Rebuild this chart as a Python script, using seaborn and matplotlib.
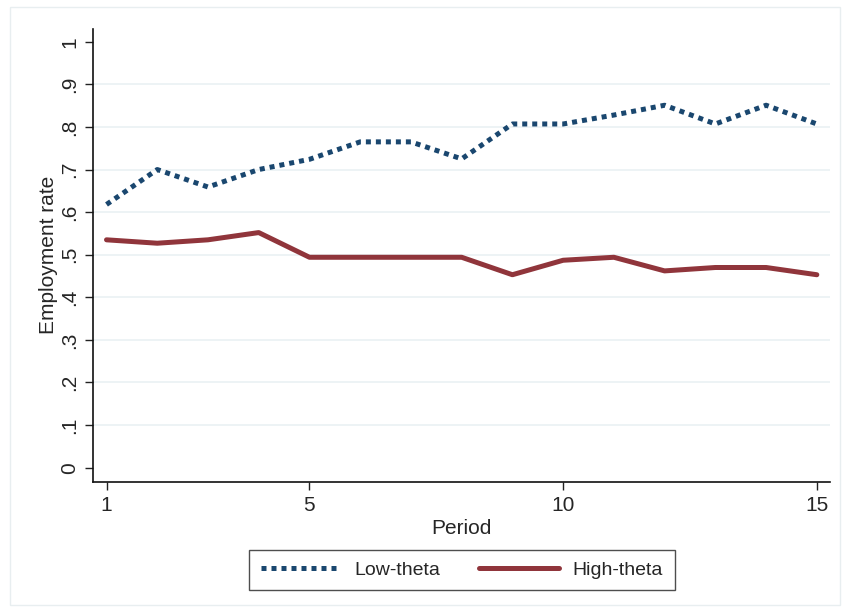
import numpy as np
import pandas as pd
import matplotlib
matplotlib.use('Agg')
import matplotlib.pyplot as plt
from matplotlib.patches import Rectangle
import seaborn as sns

# Data
periods = list(range(1, 16))
low_theta = [0.618, 0.700, 0.659, 0.700, 0.724, 0.765, 0.765, 0.725,
             0.807, 0.807, 0.828, 0.851, 0.807, 0.851, 0.807]
high_theta = [0.535, 0.527, 0.535, 0.552, 0.494, 0.494, 0.494, 0.494,
              0.453, 0.487, 0.494, 0.462, 0.470, 0.470, 0.453]
y_ticks = [0, 0.1, 0.2, 0.3, 0.4, 0.5, 0.6, 0.7, 0.8, 0.9, 1.0]
y_tick_labels = ['0', '.1', '.2', '.3', '.4', '.5', '.6', '.7', '.8', '.9', '1']
x_ticks = [1, 5, 10, 15]

df = pd.DataFrame({
    'Period': periods * 2,
    'rate': low_theta + high_theta,
    'group': ['Low-theta'] * 15 + ['High-theta'] * 15,
})

sns.set_style('white')
plt.rcParams['font.family'] = ['Liberation Sans', 'DejaVu Sans']

navy = '#1a476f'
maroon = '#90353b'

fig = plt.figure(figsize=(8.43, 6.12), dpi=100)
ax = fig.add_axes([0.1107, 0.2129, 0.9846 - 0.1107, 0.9526 - 0.2129])

# faint outer frame like the Stata graph region
fig.patches.append(Rectangle((10 / 843, 7 / 612), 830 / 843, 598 / 612,
                             transform=fig.transFigure, fill=False,
                             edgecolor='#e8eef0', linewidth=1.0))

for y in y_ticks[1:-1]:
    ax.axhline(y, color='#eaf1f3', linewidth=1.2, zorder=0)

sns.lineplot(data=df[df.group == 'Low-theta'], x='Period', y='rate', ax=ax,
             color=navy, linewidth=3.6, label='Low-theta')
sns.lineplot(data=df[df.group == 'High-theta'], x='Period', y='rate', ax=ax,
             color=maroon, linewidth=3.6, label='High-theta')
ax.lines[-2].set_linestyle((0, (1, 1)))
ax.lines[-2].set_dash_capstyle('butt')
ax.lines[-1].set_solid_capstyle('round')

ax.set_xlim(0.74, 15.26)
ax.set_ylim(-0.033, 1.03)
ax.set_xticks(x_ticks)
ax.set_xticklabels([str(t) for t in x_ticks], fontsize=15)
ax.set_yticks(y_ticks)
ax.set_yticklabels(y_tick_labels, fontsize=15, rotation=90, va='center')
ax.tick_params(axis='both', direction='out', length=6, width=1, color='#222222',
               left=True, bottom=True, pad=4)
ax.set_xlabel('Period', fontsize=15, labelpad=3)
ax.set_ylabel('Employment rate', fontsize=15, labelpad=2)

for s in ['top', 'right']:
    ax.spines[s].set_visible(False)
for s in ['left', 'bottom']:
    ax.spines[s].set_color('#111111')
    ax.spines[s].set_linewidth(1.2)

leg = ax.legend(loc='center', bbox_to_anchor=(462 / 843, 1 - 570 / 612),
                bbox_transform=fig.transFigure, ncol=2, fontsize=14,
                frameon=True, fancybox=False, handlelength=4.1,
                columnspacing=2.0, handletextpad=0.7, borderpad=0.6)
leg.get_frame().set_edgecolor('#222222')
leg.get_frame().set_linewidth(1.0)
for h in leg.get_lines():
    h.set_linewidth(3.6)

fig.savefig('out.png', dpi=100)
